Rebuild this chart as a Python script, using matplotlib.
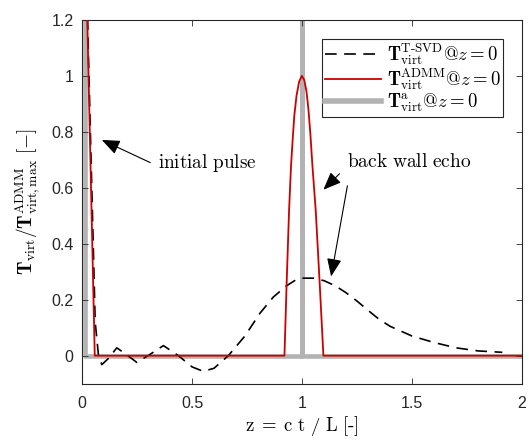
import numpy as np
import matplotlib
matplotlib.use("Agg")
from matplotlib import pyplot as plt

plt.rcParams['mathtext.fontset'] = 'cm'
plt.rcParams['font.family'] = ['Liberation Sans', 'DejaVu Sans']

# T-SVD result (black dashed)
svd_z = [0.0, 0.03, 0.06, 0.075, 0.09, 0.12, 0.158, 0.2, 0.249, 0.3, 0.37, 0.438,
         0.5, 0.551, 0.6, 0.665, 0.74, 0.809, 0.87, 0.93, 0.97, 1.0, 1.05, 1.1,
         1.15, 1.2, 1.25, 1.3, 1.35, 1.4, 1.5, 1.6, 1.7, 1.8, 1.91]
svd_T = [2.1, 1.05, 0.12, 0.0, -0.032, -0.01, 0.028, 0.005, -0.024, 0.0, 0.036, 0.0,
         -0.04, -0.056, -0.045, 0.0, 0.07, 0.152, 0.21, 0.25, 0.27, 0.277, 0.277, 0.268,
         0.25, 0.225, 0.195, 0.162, 0.13, 0.105, 0.07, 0.047, 0.028, 0.017, 0.012]

# ADMM result (red)
admm_z = [0.0, 0.058, 0.92, 0.93, 0.941, 0.95, 0.958, 0.965, 0.975, 0.987, 0.999,
          1.01, 1.02, 1.029, 1.038, 1.047, 1.062, 1.08, 1.097, 2.0]
admm_T = [2.05, 0.0, 0.0, 0.26, 0.52, 0.68, 0.78, 0.86, 0.93, 0.98, 1.0,
          0.985, 0.945, 0.88, 0.79, 0.68, 0.52, 0.26, 0.0, 0.0]

# analytical (gray)
ana_z = [0.013, 0.013, 1.0, 1.0, 1.0, 2.0]
ana_T = [100.0, 0.0, 0.0, 100.0, 0.0, 0.0]

fig = plt.figure(figsize=(5.29, 4.42), dpi=100)
ax = fig.add_axes([0.155, 0.132, 0.832, 0.823])

gray = '#b3b3b3'
dash = (0, (7, 4.5))
ax.plot(ana_z, ana_T, color=gray, lw=3.3, zorder=1)
ax.plot(svd_z, svd_T, 'k', ls=dash, lw=1.2, zorder=2)
ax.plot(admm_z, admm_T, color='#cc0000', lw=1.3, zorder=3)

# legend proxies in the same order as the original
h1, = ax.plot([], [], 'k', ls=dash, lw=1.2)
h2, = ax.plot([], [], color='#cc0000', lw=1.3)
h3, = ax.plot([], [], color=gray, lw=4)
leg = ax.legend([h1, h2, h3],
                [r'$\mathbf{T}^{\mathrm{T\text{-}SVD}}_{\mathrm{virt}}@z=0$',
                 r'$\mathbf{T}^{\mathrm{ADMM}}_{\mathrm{virt}}@z=0$',
                 r'$\mathbf{T}^{\mathrm{a}}_{\mathrm{virt}}@z=0$'],
                loc='upper right', fontsize=13.5, frameon=True, fancybox=False,
                edgecolor='#262626', framealpha=1, borderaxespad=1.0,
                handlelength=3.0, labelspacing=-0.05, borderpad=0.15, handletextpad=0.3)
leg.get_frame().set_linewidth(0.8)

ax.set_xlim(0, 2)
ax.set_ylim(-0.1, 1.2)
ax.set_xticks([0, 0.5, 1, 1.5, 2])
ax.set_xticklabels(['0', '0.5', '1', '1.5', '2'])
ax.set_yticks([0, 0.2, 0.4, 0.6, 0.8, 1.0, 1.2])
ax.set_yticklabels(['0', '0.2', '0.4', '0.6', '0.8', '1', '1.2'])
ax.tick_params(direction='in', top=True, right=True, labelsize=11.5,
               colors='#262626', length=4, width=0.6)
ax.tick_params(axis='x', pad=9)
ax.tick_params(axis='y', pad=6)
for s in ax.spines.values():
    s.set_color('#262626')
    s.set_linewidth(0.8)

ax.set_xlabel(r'$\mathrm{z\;=\;c\ t\ /\ L\ [\text{-}]}$', fontsize=13.5, labelpad=2)
ax.set_ylabel(r'$\mathbf{T}_{\mathrm{virt}}/\mathbf{T}^{\mathrm{ADMM}}_{\mathrm{virt,max}}\ [-]$',
              fontsize=14, labelpad=7)

arr = dict(arrowstyle='-|>,head_length=1.1,head_width=0.45', color='k', lw=0.8,
           shrinkA=0, shrinkB=0)
ax.annotate('', xy=(0.09, 0.771), xytext=(0.31, 0.69), arrowprops=arr)
ax.text(0.347, 0.69, r'$\mathrm{initial\ pulse}$', fontsize=13.8, va='center', ha='left')
ax.text(1.203, 0.693, r'$\mathrm{back\ wall\ echo}$', fontsize=14, va='center', ha='left')
ax.annotate('', xy=(1.097, 0.593), xytext=(1.17, 0.65), arrowprops=arr)
ax.annotate('', xy=(1.132, 0.283), xytext=(1.206, 0.607), arrowprops=arr)

plt.savefig('out.png', dpi=100)
